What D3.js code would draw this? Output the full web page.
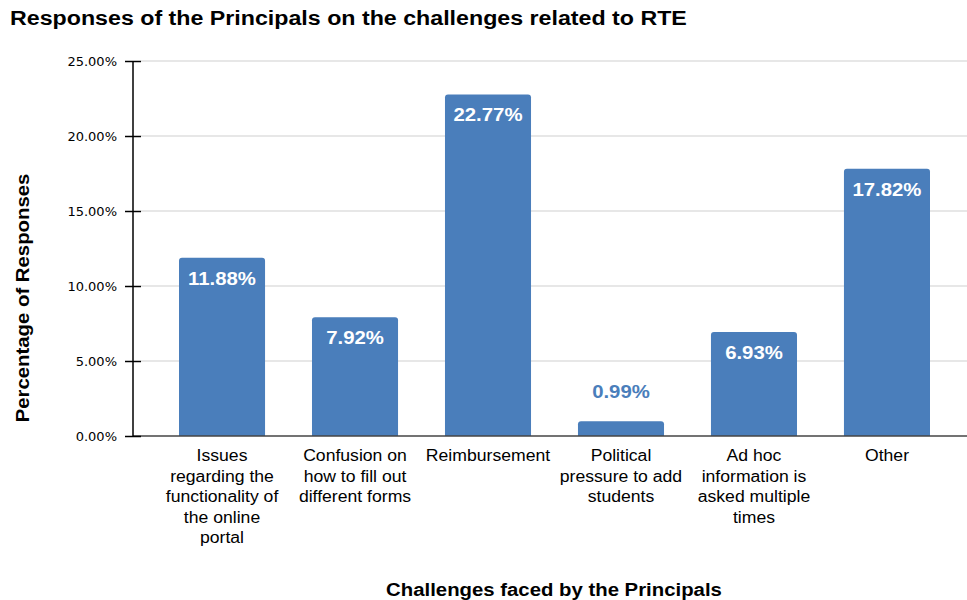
<!DOCTYPE html>
<html>
<head>
<meta charset="utf-8">
<script src="https://cdn.jsdelivr.net/npm/d3@7"></script>
<style>
  body { margin: 0; background: #fff; }
  svg { display: block; }
</style>
</head>
<body>
<svg width="967" height="600"></svg>
<script>
// data
var categories = [
    "Issues regarding the functionality of the online portal",
    "Confusion on how to fill out different forms",
    "Reimbursement",
    "Political pressure to add students",
    "Ad hoc information is asked multiple times",
    "Other"
];
var categoryLines = [
    ["Issues", "regarding the", "functionality of", "the online", "portal"],
    ["Confusion on", "how to fill out", "different forms"],
    ["Reimbursement"],
    ["Political", "pressure to add", "students"],
    ["Ad hoc", "information is", "asked multiple", "times"],
    ["Other"]
];
var values = [11.88, 7.92, 22.77, 0.99, 6.93, 17.82];
var yTicks = [0, 5, 10, 15, 20, 25];

var svg = d3.select("svg");
var width = +svg.attr("width"),
    height = +svg.attr("height");

var barColor = "#4a7ebb";
var axisX = 133, plotRight = 967;
var font = "Liberation Sans, Arial, sans-serif";

// the reference font is a bit wider than Liberation Sans
function stretch(sel, k) {
    sel.each(function () {
        var len = this.getComputedTextLength();
        d3.select(this)
            .attr("textLength", len * k)
            .attr("lengthAdjust", "spacingAndGlyphs");
    });
}

var x = d3.scaleBand()
    .domain(categories)
    .range([179, 930])
    .paddingInner(0.353)
    .paddingOuter(0);

var y = d3.scaleLinear()
    .domain([0, 25])
    .range([436, 61]);

// title
svg.append("text")
    .attr("x", 10).attr("y", 25)
    .style("font-family", font)
    .style("font-weight", "bold")
    .style("font-size", "20px")
    .text("Responses of the Principals on the challenges related to RTE")
    .call(stretch, 1.16);

// gridlines
svg.append("g").selectAll("line")
    .data(yTicks.filter(function (d) { return d > 0; }))
    .enter().append("line")
    .attr("x1", axisX + 8).attr("x2", plotRight)
    .attr("y1", function (d) { return y(d); })
    .attr("y2", function (d) { return y(d); })
    .attr("stroke", "#cfcfcf")
    .attr("stroke-width", 1);

// bars
svg.append("g").selectAll("path")
    .data(values).enter()
    .append("path")
    .attr("fill", barColor)
    .attr("d", function (d, i) {
        var x0 = x(categories[i]), w = x.bandwidth();
        var top = y(d), bottom = y(0), r = 3;
        return "M" + x0 + "," + bottom +
            "V" + (top + r) +
            "Q" + x0 + "," + top + " " + (x0 + r) + "," + top +
            "H" + (x0 + w - r) +
            "Q" + (x0 + w) + "," + top + " " + (x0 + w) + "," + (top + r) +
            "V" + bottom + "Z";
    });

// value labels
svg.append("g").selectAll("text")
    .data(values).enter()
    .append("text")
    .attr("x", function (d, i) { return x(categories[i]) + x.bandwidth() / 2; })
    .attr("y", function (d) { return d < 3 ? y(d) - 23 : y(d) + 27; })
    .attr("text-anchor", "middle")
    .style("font-family", font)
    .style("font-weight", "bold")
    .style("font-size", "18px")
    .attr("fill", function (d) { return d < 3 ? barColor : "#fff"; })
    .text(function (d) { return d.toFixed(2) + "%"; })
    .call(stretch, 1.13);

// baseline
svg.append("line")
    .attr("x1", axisX).attr("x2", plotRight)
    .attr("y1", y(0)).attr("y2", y(0))
    .attr("stroke", "#444").attr("stroke-width", 1.3);

// y axis
var yAxis = svg.append("g")
    .attr("transform", "translate(" + axisX + ",0)")
    .call(d3.axisLeft(y)
        .tickValues(yTicks)
        .tickSize(8)
        .tickPadding(8)
        .tickFormat(function (d) { return d.toFixed(2) + "%"; }));
yAxis.select(".domain").attr("stroke", "#000").attr("stroke-width", 1.5)
    .attr("d", "M0," + y(25) + "V" + y(0));
yAxis.selectAll(".tick line")
    .attr("x1", -8).attr("x2", 8)
    .attr("stroke", "#000").attr("stroke-width", 1.5);
yAxis.selectAll(".tick text")
    .style("font-family", "DejaVu Sans, sans-serif")
    .style("font-size", "13px")
    .attr("fill", "#000");

// category labels, one text per line
var catData = [];
categoryLines.forEach(function (lines, i) {
    lines.forEach(function (l, j) { catData.push({ text: l, i: i, j: j }); });
});
svg.append("g").selectAll("text")
    .data(catData).enter()
    .append("text")
    .attr("text-anchor", "middle")
    .attr("x", function (d) { return x(categories[d.i]) + x.bandwidth() / 2; })
    .attr("y", function (d) { return 461 + d.j * 20.5; })
    .style("font-family", font)
    .style("font-size", "16px")
    .attr("fill", "#000")
    .text(function (d) { return d.text; })
    .call(stretch, 1.1);

// axis titles
svg.append("text")
    .attr("transform", "translate(29,298) rotate(-90)")
    .attr("text-anchor", "middle")
    .style("font-family", font)
    .style("font-weight", "bold")
    .style("font-size", "18px")
    .text("Percentage of Responses")
    .call(stretch, 1.13);

svg.append("text")
    .attr("x", 554).attr("y", 596)
    .attr("text-anchor", "middle")
    .style("font-family", font)
    .style("font-weight", "bold")
    .style("font-size", "18px")
    .text("Challenges faced by the Principals")
    .call(stretch, 1.13);
</script>
</body>
</html>
